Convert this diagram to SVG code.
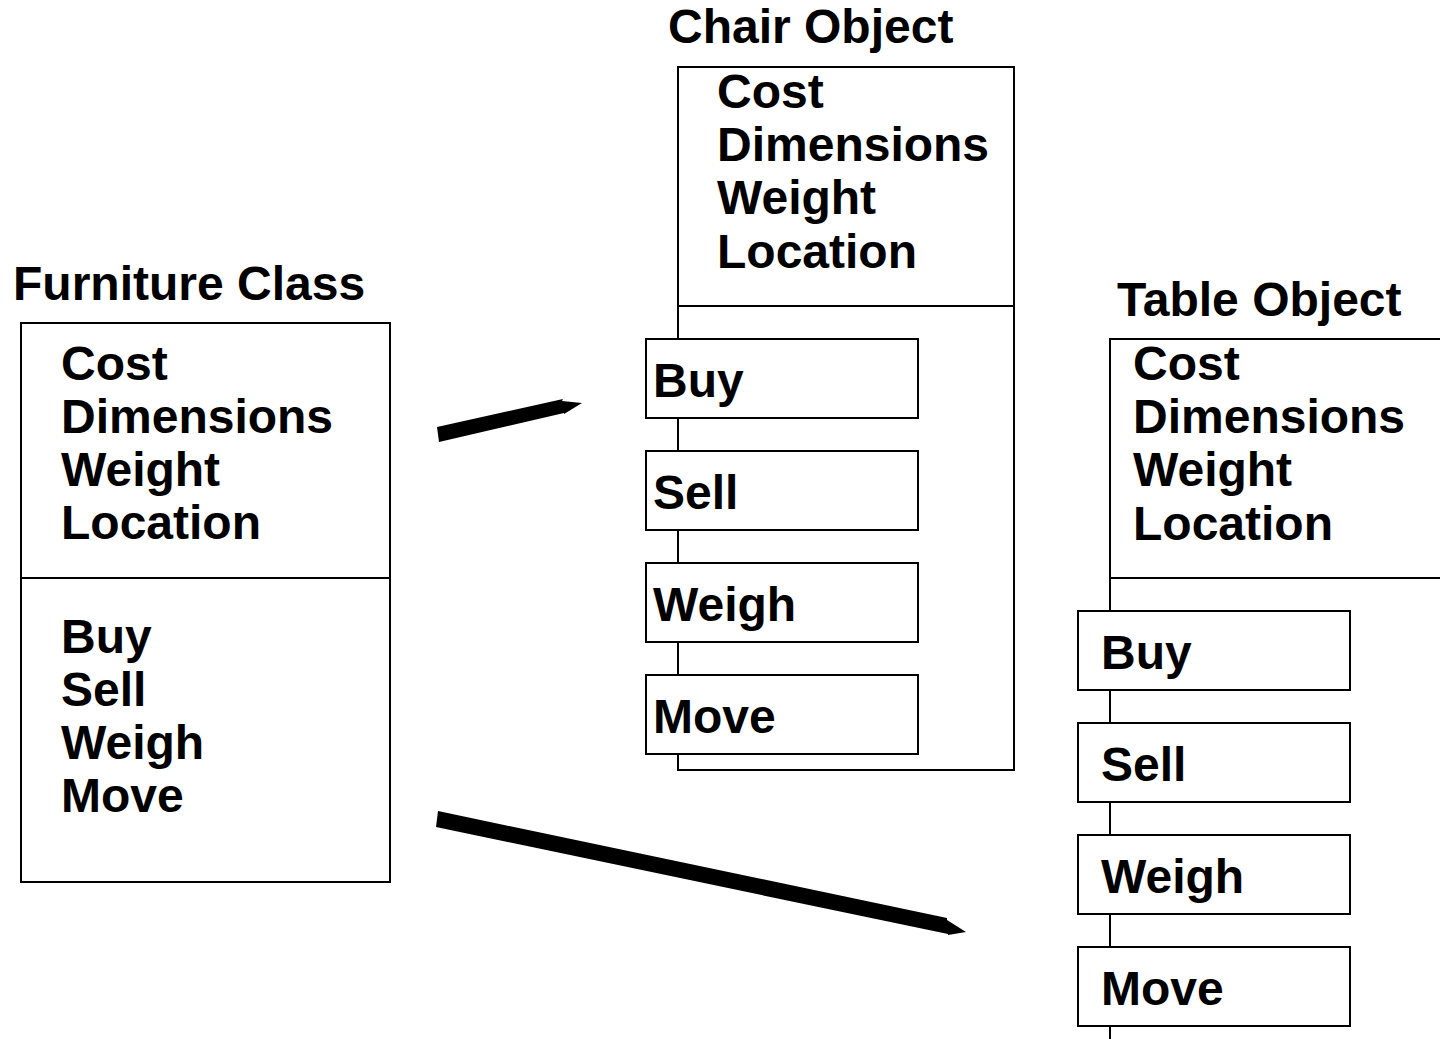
<svg xmlns="http://www.w3.org/2000/svg" width="1440" height="1039" viewBox="0 0 1440 1039">
<style>
text{font-family:"Liberation Sans",Arial,sans-serif;font-weight:bold;font-size:48px;fill:#000}
.b{fill:#fff;stroke:#000;stroke-width:2}
.l{stroke:#000;stroke-width:2;fill:none}
</style>
<rect width="1440" height="1039" fill="#fff"/>
<g id="furniture">
<text x="13" y="300">Furniture Class</text>
<rect class="b" x="21" y="323" width="369" height="559"/>
<line class="l" x1="21" y1="578" x2="390" y2="578"/>
<text x="61" y="380">Cost</text>
<text x="61" y="433">Dimensions</text>
<text x="61" y="486">Weight</text>
<text x="61" y="539">Location</text>
<text x="61" y="653">Buy</text>
<text x="61" y="706">Sell</text>
<text x="61" y="759">Weigh</text>
<text x="61" y="812">Move</text>
</g>
<g id="chair">
<text x="668" y="43">Chair Object</text>
<rect class="b" x="678" y="67" width="336" height="703"/>
<line class="l" x1="678" y1="306" x2="1014" y2="306"/>
<text x="717" y="108">Cost</text>
<text x="717" y="161">Dimensions</text>
<text x="717" y="214">Weight</text>
<text x="717" y="268">Location</text>
<rect class="b" x="646" y="339" width="272" height="79"/>
<text x="653" y="397">Buy</text>
<rect class="b" x="646" y="451" width="272" height="79"/>
<text x="653" y="509">Sell</text>
<rect class="b" x="646" y="563" width="272" height="79"/>
<text x="653" y="621">Weigh</text>
<rect class="b" x="646" y="675" width="272" height="79"/>
<text x="653" y="733">Move</text>
</g>
<g id="table">
<text x="1117" y="316">Table Object</text>
<rect class="b" x="1110" y="339" width="340" height="720"/>
<line class="l" x1="1110" y1="578" x2="1440" y2="578"/>
<text x="1133" y="380">Cost</text>
<text x="1133" y="433">Dimensions</text>
<text x="1133" y="486">Weight</text>
<text x="1133" y="540">Location</text>
<rect class="b" x="1078" y="611" width="272" height="79"/>
<text x="1101" y="669">Buy</text>
<rect class="b" x="1078" y="723" width="272" height="79"/>
<text x="1101" y="781">Sell</text>
<rect class="b" x="1078" y="835" width="272" height="79"/>
<text x="1101" y="893">Weigh</text>
<rect class="b" x="1078" y="947" width="272" height="79"/>
<text x="1101" y="1005">Move</text>
</g>
<g id="connectors" fill="#000">
<polygon points="437,427 563,399 562,401 582,403 564,414 564,413 439,442"/>
<polygon points="438,811 947,918 947,920 966,932 948,935 948,934 436,827"/>
</g>
</svg>
